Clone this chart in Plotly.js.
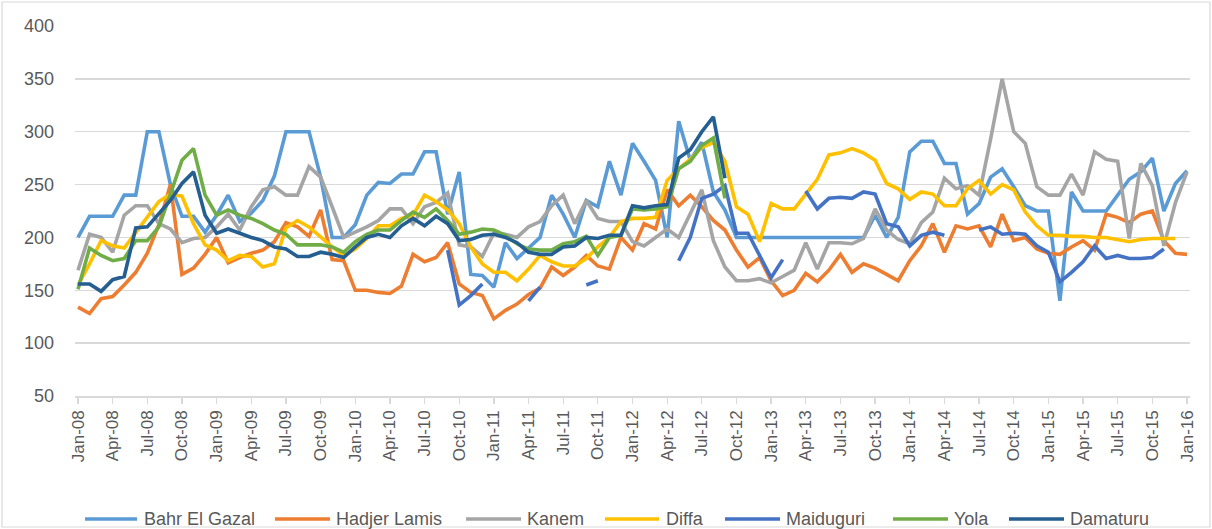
<!DOCTYPE html>
<html>
<head>
<meta charset="utf-8">
<script src="https://cdn.plot.ly/plotly-3.0.1.min.js"></script>
<style>
  html, body { margin: 0; padding: 0; background: #ffffff; }
  #chart { width: 1212px; height: 529px; }
</style>
</head>
<body>
<div id="chart"></div>
<script>
// Monthly series, Jan-08 (index 0) to Jan-16 (index 96)
const bahrElGazal = [200,220,220,220,240,240,300,300,250,220,220,205,221,240,215,223,235,258,300,300,300,257,200,200,212,240,252,251,260,260,281,281,222,262,165,164,153,195,180,190,200,240,222,200,235,229,272,240,289,272,254,200,310,273,290,243,226,200,200,200,200,200,200,200,200,200,200,200,200,221,200,219,281,291,291,270,270,222,232,257,265,248,230,225,225,140,243,225,225,225,240,255,262,275,225,251,263];
const hadjerLamis = [134,128,142,144,155,167,185,212,250,165,171,184,200,176,181,185,188,196,214,210,201,226,179,178,150,150,148,147,154,184,177,181,195,156,148,145,123,131,137,146,152,172,164,172,183,173,170,200,188,213,208,245,230,240,229,216,207,188,172,181,159,145,150,166,158,169,184,167,175,171,165,159,178,192,213,186,211,208,211,191,222,197,200,189,185,184,191,197,188,222,219,214,222,225,197,185,184];
const kanem = [169,203,200,186,221,230,230,213,208,195,199,200,210,222,207,229,245,248,240,240,267,257,229,200,205,210,216,227,227,213,229,233,242,193,191,182,204,203,200,210,215,230,240,213,235,218,215,215,196,192,200,208,200,222,245,197,172,159,159,161,157,163,169,195,170,195,195,194,199,227,207,198,194,214,224,256,246,249,240,293,350,300,289,248,240,240,260,240,281,274,272,199,270,249,192,233,262];
const diffa = [155,175,197,192,190,205,220,234,241,239,213,193,188,178,183,182,172,175,209,216,210,200,191,183,189,199,211,211,218,221,240,234,226,213,191,175,167,167,159,170,183,177,173,173,180,191,200,215,218,218,219,254,265,274,285,290,272,229,222,196,232,227,227,241,255,278,280,284,280,273,251,246,236,243,241,230,230,246,254,241,250,245,224,211,202,202,201,201,200,200,198,196,198,199,199,199,null];
const maiduguri = [null,null,null,null,null,null,null,null,null,null,null,null,null,null,null,null,null,null,null,null,null,null,null,null,null,null,null,null,null,null,null,null,188,136,145,156,null,null,null,140,153,null,null,null,155,159,null,null,null,null,null,null,178,200,237,241,249,204,204,183,162,179,null,244,227,237,238,237,243,241,213,210,192,202,205,202,null,null,207,210,203,204,203,192,186,158,167,177,192,180,183,180,180,181,189,null,null];
const yola = [151,190,183,178,180,197,197,210,241,273,284,240,221,226,221,218,213,207,203,193,193,193,191,186,196,203,207,207,216,224,219,227,216,203,205,208,207,202,194,189,188,188,194,196,201,183,200,202,227,226,227,229,265,272,287,294,237,null,null,null,null,null,null,null,null,null,null,null,null,null,null,null,null,null,null,null,null,null,null,null,null,null,null,null,null,null,null,null,null,null,null,null,null,null,null,null,null];
const damaturu = [156,156,149,160,163,209,210,222,235,251,262,221,204,208,204,200,197,191,189,182,182,186,184,181,191,200,203,200,211,218,211,220,213,197,198,202,203,200,195,186,184,184,191,192,200,199,202,202,230,228,230,231,275,283,300,314,256,null,null,null,null,null,null,null,null,null,null,null,null,null,null,null,null,null,null,null,null,null,null,null,null,null,null,null,null,null,null,null,null,null,null,null,null,null,null,null,null];

const seriesNames = ["Bahr El Gazal","Hadjer Lamis","Kanem","Diffa","Maiduguri","Yola","Damaturu"];
const seriesColors = ["#5B9BD5","#ED7D31","#A5A5A5","#FFC000","#4472C4","#70AD47","#255E91"];
const tickLabels = ["Jan-08","Apr-08","Jul-08","Oct-08","Jan-09","Apr-09","Jul-09","Oct-09","Jan-10","Apr-10","Jul-10","Oct-10","Jan-11","Apr-11","Jul-11","Oct-11","Jan-12","Apr-12","Jul-12","Oct-12","Jan-13","Apr-13","Jul-13","Oct-13","Jan-14","Apr-14","Jul-14","Oct-14","Jan-15","Apr-15","Jul-15","Oct-15","Jan-16"];

const allSeries = [bahrElGazal, hadjerLamis, kanem, diffa, maiduguri, yola, damaturu];
const monthIndex = bahrElGazal.map((_, i) => i);
const tickPos = tickLabels.map((_, k) => k * 3);

const traces = allSeries.map((vals, s) => ({
  x: monthIndex,
  y: vals,
  name: seriesNames[s],
  type: 'scatter',
  mode: 'lines',
  connectgaps: false,
  line: { color: seriesColors[s], width: 3.6, shape: 'linear' },
  hoverinfo: 'skip'
}));

// Plot area geometry in pixels (for the manual legend placement)
const L = 75, R = 1190, T = 26, B = 396;
const px = x => (x - L) / (R - L);
const py = y => (B - y) / (B - T);

const legendY = 519;
const legendItems = [
  { x0: 85, x1: 137, tx: 142 },
  { x0: 275, x1: 330, tx: 334 },
  { x0: 466, x1: 521, tx: 525 },
  { x0: 605, x1: 659, tx: 664 },
  { x0: 725, x1: 780, tx: 784 },
  { x0: 893, x1: 948, tx: 952 },
  { x0: 1009, x1: 1064, tx: 1068 }
];

const shapes = [
  { type: 'rect', xref: 'paper', yref: 'paper', x0: px(2), x1: px(1210), y0: py(527), y1: py(2),
    line: { color: '#D9D9D9', width: 1.2 }, fillcolor: 'rgba(0,0,0,0)', layer: 'below' }
];
const annotations = [];
legendItems.forEach((it, s) => {
  shapes.push({ type: 'line', xref: 'paper', yref: 'paper', x0: px(it.x0), x1: px(it.x1),
    y0: py(legendY), y1: py(legendY), line: { color: seriesColors[s], width: 3.6 } });
  annotations.push({ xref: 'paper', yref: 'paper', x: px(it.tx), y: py(legendY), xanchor: 'left', yanchor: 'middle',
    text: seriesNames[s], showarrow: false,
    font: { family: 'Liberation Sans, Arial, sans-serif', size: 18, color: '#595959' } });
});

const layout = {
  width: 1212,
  height: 529,
  margin: { l: L, r: 1212 - R, t: T, b: 529 - B, pad: 0 },
  paper_bgcolor: '#ffffff',
  plot_bgcolor: '#ffffff',
  showlegend: false,
  font: { family: 'Liberation Sans, Arial, sans-serif', color: '#595959' },
  xaxis: {
    range: [-0.26, 96.26],
    tickmode: 'array',
    tickvals: tickPos,
    ticktext: tickLabels,
    tickangle: -90,
    ticks: 'outside',
    ticklen: 6,
    tickwidth: 1.3,
    tickcolor: '#D9D9D9',
    showline: true,
    linecolor: '#D9D9D9',
    linewidth: 1.5,
    showgrid: false,
    zeroline: false,
    tickfont: { family: 'Liberation Sans, Arial, sans-serif', size: 17, color: '#595959' }
  },
  yaxis: {
    range: [50, 400],
    tickmode: 'linear',
    tick0: 50,
    dtick: 50,
    showgrid: true,
    gridcolor: '#D9D9D9',
    gridwidth: 1.3,
    showline: false,
    zeroline: false,
    ticks: '',
    ticklabelstandoff: 20,
    tickfont: { family: 'Liberation Sans, Arial, sans-serif', size: 18, color: '#595959' }
  },
  shapes: shapes,
  annotations: annotations
};

Plotly.newPlot('chart', traces, layout, { displayModeBar: false, staticPlot: true });
</script>
</body>
</html>
